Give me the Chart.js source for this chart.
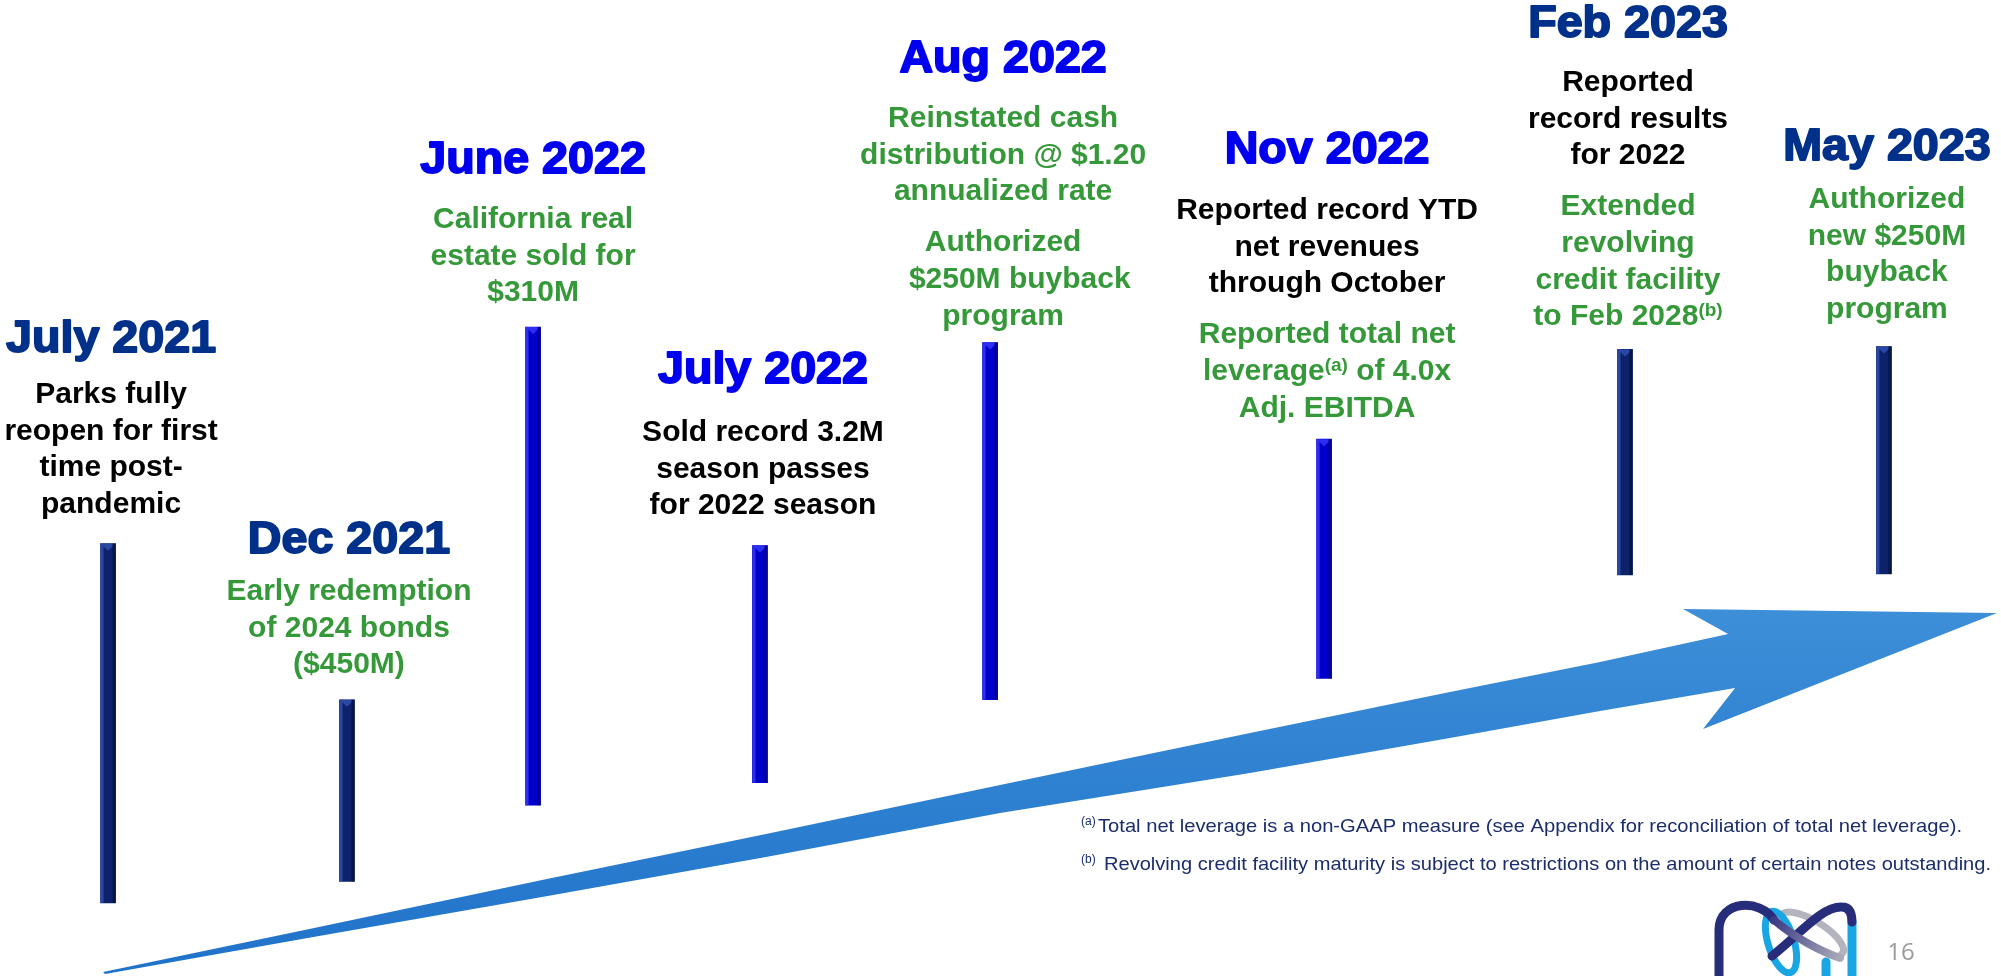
<!DOCTYPE html>
<html>
<head>
<meta charset="utf-8">
<title>Milestones 2021 - 2023</title>
<script src="https://cdn.jsdelivr.net/npm/chart.js@4.4.1/dist/chart.umd.min.js"></script>
<style>
  html, body { margin: 0; padding: 0; background: #ffffff; }
  #wrap { position: relative; width: 2001px; height: 976px; }
</style>
</head>
<body>
<div id="wrap"><canvas id="timeline"></canvas></div>
<script>
// ---- data ----
const eventDates = ['July 2021', 'Dec 2021', 'June 2022', 'July 2022', 'Aug 2022', 'Nov 2022', 'Feb 2023', 'May 2023'];

// floating bar ends, in timeline height units (0 = bottom, 100 = top)
const barHigh = [44.3, 28.3, 66.5, 44.1, 64.9, 55.0, 64.2, 64.5];
const barLow = [7.5, 9.7, 17.5, 19.8, 28.3, 30.5, 41.1, 41.2];

// '^...^' marks a superscript run
const blackNotes = [
  ['Parks fully', 'reopen for first', 'time post-', 'pandemic'],
  [],
  [],
  ['Sold record 3.2M', 'season passes', 'for 2022 season'],
  [],
  ['Reported record YTD', 'net revenues', 'through October'],
  ['Reported', 'record results', 'for 2022'],
  []
];
const greenNotes = [
  [],
  ['Early redemption', 'of 2024 bonds', '($450M)'],
  ['California real', 'estate sold for', '$310M'],
  [],
  ['Reinstated cash', 'distribution @ $1.20', 'annualized rate', '', 'Authorized', '\u00a0\u00a0\u00a0\u00a0$250M buyback', 'program'],
  ['Reported total net', 'leverage^(a)^ of 4.0x', 'Adj. EBITDA'],
  ['Extended', 'revolving', 'credit facility', 'to Feb 2028^(b)^'],
  ['Authorized', 'new $250M', 'buyback', 'program']
];

const footnoteMarks = ['(a)', '(b)'];
const footnotes = [
  'Total net leverage is a non-GAAP measure (see Appendix for reconciliation of total net leverage).',
  'Revolving credit facility maturity is subject to restrictions on the amount of certain notes outstanding.'
];
const pageNumber = '16';

// ---- layout ----
const columnX = [5.40, 17.34, 26.64, 37.98, 49.48, 66.17, 81.21, 94.15];
const titleBase = [352, 553, 173, 383, 72, 163, 37, 160];
const bodyBase = [403, 600, 228, 441, 127, 219, 91, 208];
const textShift = [3, 2, 0, 3, 13, 3, 3, 3];
const LINE = 36.7;
const GAP = 14;

// ---- styles ----
const NAVY = '#00318a';
const BRIGHT = '#0000ee';
const GREEN = '#35993a';
const FOOT = '#1b2d6b';
const barTone = ['navy', 'navy', 'bright', 'bright', 'bright', 'bright', 'navy', 'navy'];
const barFill = { navy: '#0d226a', bright: '#0000c8' };
const barLight = { navy: '#2a47a3', bright: '#2e2ef2' };
const barDark = { navy: '#061544', bright: '#000096' };
const FONT = '"Liberation Sans", Arial, sans-serif';

// outline of the rising arrow, same units as the scales
const arrowOutline = [
  [5.15, 0.41], [15.94, 5.02], [27.09, 9.84], [38.28, 14.55], [49.98, 19.57],
  [62.47, 24.90], [72.46, 29.10], [79.96, 32.17], [86.36, 35.04],
  [84.11, 37.60], [99.80, 37.19], [85.11, 25.31], [86.71, 29.51],
  [79.96, 27.15], [72.46, 24.39], [62.47, 20.80], [49.98, 16.70],
  [38.28, 12.19], [27.09, 8.09], [15.94, 4.10], [5.25, 0.20]
];

function drawRich(ctx, text, cx, y, size, color, stretch, heavy) {
  const parts = text.split('^');
  const sizes = parts.map((p, k) => (k % 2 ? Math.round(size * 0.62) : size));
  const widths = parts.map((p, k) => {
    ctx.font = 'bold ' + sizes[k] + 'px ' + FONT;
    return ctx.measureText(p).width;
  });
  const total = widths.reduce((a, b) => a + b, 0);
  ctx.save();
  ctx.translate(cx, y);
  ctx.scale(stretch, 1);
  ctx.fillStyle = color;
  ctx.strokeStyle = color;
  ctx.lineWidth = heavy || 0;
  ctx.lineJoin = 'round';
  ctx.textAlign = 'left';
  ctx.textBaseline = 'alphabetic';
  let x = -total / 2;
  parts.forEach((p, k) => {
    ctx.font = 'bold ' + sizes[k] + 'px ' + FONT;
    const dy = k % 2 ? -size * 0.3 : 0;
    ctx.fillText(p, x, dy);
    if (heavy) ctx.strokeText(p, x, dy);
    x += widths[k];
  });
  ctx.restore();
}

function drawFitted(ctx, text, x, y, width, font, color) {
  ctx.save();
  ctx.font = font;
  const w = ctx.measureText(text).width;
  ctx.translate(x, y);
  ctx.scale(width / w, 1);
  ctx.fillStyle = color;
  ctx.textAlign = 'left';
  ctx.textBaseline = 'alphabetic';
  ctx.fillText(text, 0, 0);
  ctx.restore();
}

function drawLogo(ctx) {
  ctx.save();
  ctx.lineCap = 'round';
  ctx.lineJoin = 'round';
  // gray ring behind the crossing
  ctx.strokeStyle = '#b3b4bd';
  ctx.lineWidth = 7;
  ctx.beginPath();
  ctx.ellipse(1812, 934, 36, 13, 0.55, Math.PI * 1.05, Math.PI * 2.05);
  ctx.stroke();
  // cyan loop and right leg
  ctx.strokeStyle = '#1aa5e3';
  ctx.beginPath();
  ctx.ellipse(1781, 942, 13, 32, -0.3, 0, Math.PI * 2);
  ctx.stroke();
  ctx.lineWidth = 9;
  ctx.beginPath();
  ctx.moveTo(1852, 922);
  ctx.lineTo(1852, 980);
  ctx.moveTo(1826, 962);
  ctx.lineTo(1826, 980);
  ctx.stroke();
  // navy left bowl and rising stroke
  ctx.strokeStyle = '#272c7b';
  ctx.beginPath();
  ctx.moveTo(1719, 980);
  ctx.lineTo(1719, 930);
  ctx.bezierCurveTo(1719, 900, 1760, 898, 1774, 920);
  ctx.stroke();
  ctx.beginPath();
  ctx.moveTo(1772, 956);
  ctx.bezierCurveTo(1800, 934, 1822, 906, 1842, 907);
  ctx.quadraticCurveTo(1852, 907, 1852, 922);
  ctx.stroke();
  // purple-gray diagonal
  const g = ctx.createLinearGradient(1772, 920, 1840, 958);
  g.addColorStop(0, '#3a3a86');
  g.addColorStop(1, '#a9a9b8');
  ctx.strokeStyle = g;
  ctx.lineWidth = 8;
  ctx.beginPath();
  ctx.moveTo(1774, 920);
  ctx.bezierCurveTo(1795, 938, 1822, 952, 1840, 958);
  ctx.stroke();
  ctx.restore();
}

const decorations = {
  id: 'decorations',
  beforeDatasetsDraw(chart) {
    const { ctx, scales: { x, y } } = chart;
    ctx.save();
    const grad = ctx.createLinearGradient(0, y.getPixelForValue(38), 0, y.getPixelForValue(0));
    grad.addColorStop(0, '#3d8fd8');
    grad.addColorStop(1, '#1f72c9');
    ctx.fillStyle = grad;
    ctx.filter = 'blur(0.6px)';
    ctx.beginPath();
    arrowOutline.forEach(([ax, ay], i) => {
      const px = x.getPixelForValue(ax);
      const py = y.getPixelForValue(ay);
      if (i === 0) ctx.moveTo(px, py); else ctx.lineTo(px, py);
    });
    ctx.closePath();
    ctx.fill();
    ctx.restore();
  },
  afterDatasetsDraw(chart) {
    const { ctx } = chart;
    const meta = chart.getDatasetMeta(0);
    ctx.save();
    meta.data.forEach((bar, i) => {
      const { x, y, base, width } = bar.getProps(['x', 'y', 'base', 'width'], true);
      const left = x - width / 2;
      const tone = barTone[i];
      ctx.fillStyle = barLight[tone];
      ctx.fillRect(left, y, 3, base - y);
      ctx.beginPath();
      ctx.moveTo(left, y);
      ctx.lineTo(left + width, y);
      ctx.lineTo(x, y + 7);
      ctx.closePath();
      ctx.fill();
      ctx.fillStyle = barDark[tone];
      ctx.fillRect(left + width - 3, y, 3, base - y);
    });
    ctx.restore();
  },
  afterDraw(chart) {
    const { ctx, scales: { x } } = chart;
    eventDates.forEach((date, i) => {
      const cx = x.getPixelForValue(columnX[i]) + textShift[i];
      drawRich(ctx, date, cx, titleBase[i], 44, barTone[i] === 'navy' ? NAVY : BRIGHT, 1.06, 1.8);
      let yy = bodyBase[i];
      blackNotes[i].forEach(line => {
        drawRich(ctx, line, cx, yy, 30, '#000000', 1.0);
        yy += LINE;
      });
      if (blackNotes[i].length && greenNotes[i].length) yy += GAP;
      greenNotes[i].forEach(line => {
        if (line === '') { yy += GAP; return; }
        drawRich(ctx, line, cx, yy, 30, GREEN, 1.0);
        yy += LINE;
      });
    });

    // footnotes
    const footStart = [1098, 1104];
    const footEnd = [1962, 1991];
    const footBase = [832, 870];
    footnotes.forEach((text, i) => {
      ctx.save();
      ctx.font = '12px ' + FONT;
      ctx.fillStyle = FOOT;
      ctx.fillText(footnoteMarks[i], 1081, footBase[i] - 7);
      ctx.restore();
      drawFitted(ctx, text, footStart[i], footBase[i], footEnd[i] - footStart[i], '19px ' + FONT, FOOT);
    });

    drawLogo(ctx);

    ctx.save();
    ctx.font = '24px "Open Sans", sans-serif';
    ctx.fillStyle = '#9b9b9b';
    ctx.textAlign = 'center';
    ctx.fillText(pageNumber, 1901, 960);
    ctx.restore();
  }
};

const canvasElement = document.getElementById('timeline');

const config = {
  type: 'bar',
  data: {
    datasets: [{
      label: 'Milestones',
      data: eventDates.map((d, i) => ({ x: columnX[i], y: [barLow[i], barHigh[i]] })),
      backgroundColor: barTone.map(t => barFill[t]),
      borderWidth: 0,
      borderSkipped: false,
      barThickness: 15
    }]
  },
  options: {
    responsive: true,
    maintainAspectRatio: false,
    animation: false,
    layout: { padding: 0 },
    plugins: { legend: { display: false }, tooltip: { enabled: false } },
    scales: {
      x: { type: 'linear', min: 0, max: 100, offset: false, display: false },
      y: { type: 'linear', min: 0, max: 100, display: false }
    }
  },
  plugins: [decorations]
};

const timelineChart = new Chart(canvasElement, config);
</script>
</body>
</html>
